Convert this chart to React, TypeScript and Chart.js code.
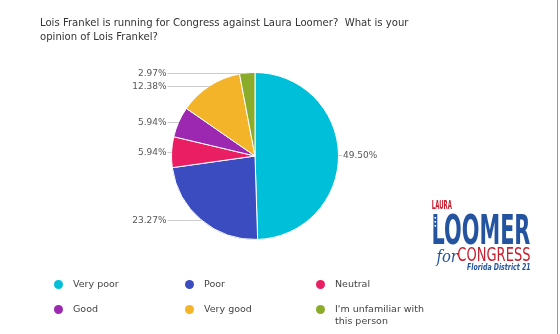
import React, { useEffect, useRef } from "react";
import { Chart, registerables } from "chart.js";

Chart.register(...registerables);

const titleLines = [
  "Lois Frankel is running for Congress against Laura Loomer?  What is your",
  "opinion of Lois Frankel?",
];
const categories = ["Very poor", "Poor", "Neutral", "Good", "Very good", "I'm unfamiliar with this person"];
const legendLabels = [["Very poor"], ["Poor"], ["Neutral"], ["Good"], ["Very good"], ["I'm unfamiliar with", "this person"]];
const values = [49.5, 23.27, 5.94, 5.94, 12.38, 2.97];
const colors = ["#00bfd8", "#3a4cc0", "#e91e63", "#9c27b0", "#f4b42a", "#8bac2b"];

const labelPlugin = {
  id: "outLabels",
  afterDatasetsDraw(chart: any) {
    const ctx = chart.ctx;
    const meta = chart.getDatasetMeta(0);
    const data = chart.data.datasets[0].data;
    ctx.save();
    ctx.font = '9px "DejaVu Sans"';
    ctx.textBaseline = "middle";
    meta.data.forEach((arc: any, i: number) => {
      const p = arc.getProps(["x", "y", "startAngle", "endAngle", "outerRadius"], true);
      const mid = (p.startAngle + p.endAngle) / 2;
      const ex = p.x + Math.cos(mid) * p.outerRadius;
      const ey = p.y + Math.sin(mid) * p.outerRadius;
      const right = Math.cos(mid) >= 0;
      const lx = right ? p.x + p.outerRadius + 3.5 : p.x - p.outerRadius - 4;
      ctx.strokeStyle = "#cccccc";
      ctx.lineWidth = 1;
      ctx.beginPath();
      ctx.moveTo(ex, Math.round(ey) + 0.5);
      ctx.lineTo(lx, Math.round(ey) + 0.5);
      ctx.stroke();
      ctx.fillStyle = "#555555";
      ctx.textAlign = right ? "left" : "right";
      ctx.fillText(Number(data[i]).toFixed(2) + "%", right ? lx + 1 : lx - 1, Math.round(ey) + 0.5);
    });
    ctx.restore();
  },
};

function fitText(ctx: any, text: string, font: string, x: number, y: number, w: number, h: number, fill: any) {
  ctx.save();
  ctx.font = font;
  ctx.textBaseline = "alphabetic";
  ctx.textAlign = "left";
  const m = ctx.measureText(text);
  const asc = m.actualBoundingBoxAscent || h;
  const sx = w / (m.actualBoundingBoxRight + m.actualBoundingBoxLeft || m.width);
  const sy = h / asc;
  ctx.translate(x, y + h);
  ctx.scale(sx, sy);
  ctx.fillStyle = fill;
  ctx.fillText(text, m.actualBoundingBoxLeft || 0, 0);
  ctx.restore();
}

const logoPlugin = {
  id: "logo",
  afterDraw(chart: any) {
    const ctx = chart.ctx;
    const red = "#c8202f";
    const blue = "#24549f";
    fitText(ctx, "LAURA", 'bold 20px "DejaVu Sans"', 432, 200, 20, 9, red);
    const g = ctx.createLinearGradient(0, 213, 0, 244);
    g.addColorStop(0, blue);
    g.addColorStop(0.5, blue);
    g.addColorStop(0.5, red);
    g.addColorStop(1, red);
    fitText(ctx, "LOOMER", 'bold 40px "DejaVu Sans"', 433, 213, 97, 31, g);
    ctx.save();
    ctx.fillStyle = "#ffffff";
    [217, 221, 225].forEach((yy) => ctx.fillRect(434.5, yy, 1.6, 1.6));
    ctx.restore();
    fitText(ctx, "for", 'italic 20px "DejaVu Serif"', 435, 250, 24, 12, blue);
    fitText(ctx, "CONGRESS", '20px "DejaVu Sans"', 458, 248, 72, 13, red);
    fitText(ctx, "Florida District 21", 'bold italic 20px "DejaVu Sans"', 467, 263, 63, 7, blue);
    ctx.save();
    ctx.strokeStyle = "#999999";
    ctx.lineWidth = 1;
    ctx.beginPath();
    ctx.moveTo(557.5, 0);
    ctx.lineTo(557.5, 334);
    ctx.stroke();
    ctx.restore();
  },
};

export default function App() {
  const ref = useRef<HTMLCanvasElement | null>(null);
  useEffect(() => {
    if (!ref.current) return;
    const chart = new Chart(ref.current, {
      type: "pie",
      data: {
        labels: categories,
        datasets: [
          {
            data: values,
            backgroundColor: colors,
            borderColor: "#ffffff",
            borderWidth: 1,
          },
        ],
      },
      options: {
        animation: false,
        responsive: false,
        layout: { padding: { left: 171, top: 72, right: 221, bottom: 94 } },
        plugins: { legend: { display: false }, tooltip: { enabled: false }, title: { display: false } },
      },
      plugins: [labelPlugin, logoPlugin],
    });
    return () => chart.destroy();
  }, []);

  const colX = [58, 189, 320];
  const rowY = [284, 309];
  return (
    <div style={{ position: "absolute", left: 0, top: 0, width: 560, height: 334, background: "#fff", overflow: "hidden" }}>
      <canvas ref={ref} width={560} height={334} style={{ position: "absolute", left: 0, top: 0, width: 560, height: 334 }} />
      <div
        style={{
          position: "absolute",
          left: 40,
          top: 16,
          fontFamily: '"DejaVu Sans"',
          fontSize: 10.1,
          lineHeight: "13.5px",
          color: "#333",
          whiteSpace: "pre",
        }}
      >
        {titleLines.map((t, i) => (
          <div key={i}>{t}</div>
        ))}
      </div>
      {legendLabels.map((lines, i) => {
        const cx = colX[i % 3];
        const cy = rowY[Math.floor(i / 3)];
        return (
          <React.Fragment key={i}>
            <div
              style={{
                position: "absolute",
                left: cx - 4.5,
                top: cy - 4.5,
                width: 9,
                height: 9,
                borderRadius: "50%",
                background: colors[i],
              }}
            />
            <div
              style={{
                position: "absolute",
                left: cx + 15,
                top: cy - 6.5,
                fontFamily: '"DejaVu Sans"',
                fontSize: 9.5,
                lineHeight: "12px",
                color: "#444",
                whiteSpace: "pre",
              }}
            >
              {lines.map((l, j) => (
                <div key={j}>{l}</div>
              ))}
            </div>
          </React.Fragment>
        );
      })}
    </div>
  );
}
